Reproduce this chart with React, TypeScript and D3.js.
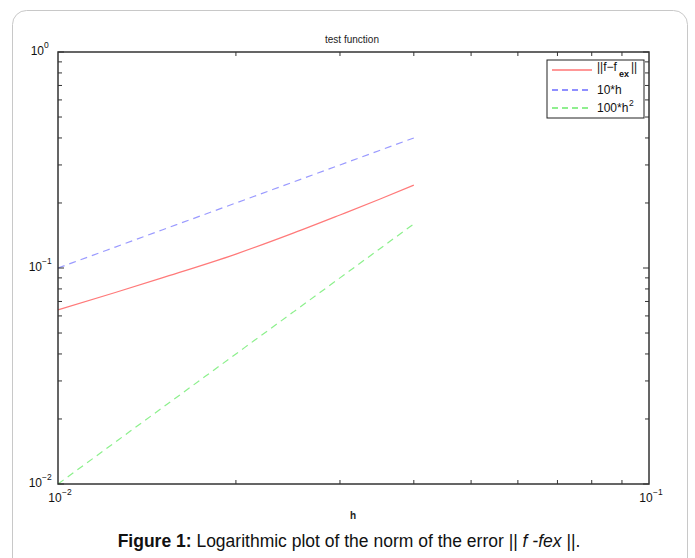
import React from "react";
import * as d3 from "d3";

const hValues = [0.01, 0.0125, 0.015, 0.02, 0.025, 0.03, 0.035, 0.04];
const errValues = [0.064, 0.077, 0.09, 0.116, 0.145, 0.176, 0.208, 0.242];
const tenH = [0.1, 0.125, 0.15, 0.2, 0.25, 0.3, 0.35, 0.4];
const hundredH2 = [0.01, 0.015625, 0.0225, 0.04, 0.0625, 0.09, 0.1225, 0.16];
const xTickExps = [-2, -1];
const yTickExps = [-2, -1, 0];

const W = 695, H = 558;
const L = 58, R = 649, T = 52, B = 484;

export default function App() {
  const x = d3.scaleLog().domain([0.01, 0.1]).range([L, R]);
  const y = d3.scaleLog().domain([0.01, 1]).range([B, T]);
  const mk = (vals: number[]) =>
    d3
      .line<number>()
      .x((_, i) => x(hValues[i]))
      .y((v) => y(v))
      .curve(d3.curveMonotoneX)(vals) || "";

  const xMinor: number[] = [];
  for (let k = 2; k <= 9; k++) xMinor.push(k * 0.01);
  const yMinor: number[] = [];
  for (const base of [0.01, 0.1]) for (let k = 2; k <= 9; k++) yMinor.push(k * base);

  const font = "Liberation Sans, Arial, sans-serif";
  const axisColor = "#333";

  return (
    <svg width={W} height={H} style={{ position: "absolute", left: 0, top: 0 }} fontFamily={font}>
      <rect x={0} y={0} width={W} height={H} fill="#fff" />
      <rect x={12.5} y={10.5} width={675} height={580} rx={14} fill="#fff" stroke="#c8c8c8" />
      <text x={352} y={43} fontSize={10} textAnchor="middle" fill="#222">test function</text>

      {/* lines */}
      <path d={mk(tenH)} fill="none" stroke="#9a9aff" strokeWidth={1.2} strokeDasharray="7,5" />
      <path d={mk(errValues)} fill="none" stroke="#ff7a7a" strokeWidth={1.2} />
      <path d={mk(hundredH2)} fill="none" stroke="#8cf08c" strokeWidth={1.2} strokeDasharray="7,5" />

      {/* axes box */}
      <rect x={L} y={T} width={R - L} height={B - T} fill="none" stroke={axisColor} strokeWidth={1.5} />
      {xMinor.map((v) => (
        <g key={"xm" + v}>
          <line x1={x(v)} x2={x(v)} y1={B} y2={B - 4} stroke={axisColor} />
          <line x1={x(v)} x2={x(v)} y1={T} y2={T + 4} stroke={axisColor} />
        </g>
      ))}
      {yMinor.map((v) => (
        <g key={"ym" + v}>
          <line x1={L} x2={L + 4} y1={y(v)} y2={y(v)} stroke={axisColor} />
          <line x1={R} x2={R - 4} y1={y(v)} y2={y(v)} stroke={axisColor} />
        </g>
      ))}
      {yTickExps.map((e) => (
        <g key={"yt" + e}>
          <line x1={L} x2={L + 6} y1={y(Math.pow(10, e))} y2={y(Math.pow(10, e))} stroke={axisColor} />
          <line x1={R} x2={R - 6} y1={y(Math.pow(10, e))} y2={y(Math.pow(10, e))} stroke={axisColor} />
          <text x={e === 0 ? 44 : 42} y={y(Math.pow(10, e)) + 3} fontSize={12} textAnchor="end" fill="#111">
            10
          </text>
          <text x={e === 0 ? 44 : 42} y={y(Math.pow(10, e)) - 4} fontSize={8.5} fill="#111">
            {e === 0 ? "0" : "\u2212" + (-e)}
          </text>
        </g>
      ))}
      {xTickExps.map((e) => (
        <g key={"xt" + e}>
          <text x={x(Math.pow(10, e)) - 3} y={B + 18} fontSize={12} textAnchor="middle" fill="#111">
            10
          </text>
          <text x={x(Math.pow(10, e)) + 4} y={B + 11} fontSize={8.5} fill="#111">
            {"\u2212" + (-e)}
          </text>
        </g>
      ))}
      <text x={353} y={519} fontSize={10} fontWeight="bold" textAnchor="middle" fill="#222">h</text>

      {/* legend */}
      <rect x={547} y={60} width={97} height={58} fill="#fff" stroke="#222" />
      <line x1={552} x2={592} y1={70} y2={70} stroke="#ff3030" strokeWidth={1.2} />
      <line x1={552} x2={592} y1={90} y2={90} stroke="#2020ff" strokeWidth={1.2} strokeDasharray="6,4" />
      <line x1={552} x2={592} y1={108} y2={108} stroke="#20e020" strokeWidth={1.2} strokeDasharray="6,4" />
      <text x={597} y={71} fontSize={12} fill="#111">||f−f</text>
      <text x={619} y={77} fontSize={9} fill="#111" fontWeight="bold">ex</text>
      <text x={631} y={71} fontSize={12} fill="#111">||</text>
      <text x={597} y={112} fontSize={12} fill="#111">100*h</text>
      <text x={597} y={94} fontSize={12} fill="#111">10*h</text>
      <text x={629} y={106} fontSize={8.5} fill="#111">2</text>

      {/* caption */}
      <text x={349} y={547} fontSize={17.5} textAnchor="middle" fill="#111">
        <tspan fontWeight="bold">Figure 1:</tspan>
        <tspan> Logarithmic plot of the norm of the error || </tspan>
        <tspan fontStyle="italic">f -fex</tspan>
        <tspan> ||.</tspan>
      </text>
    </svg>
  );
}
